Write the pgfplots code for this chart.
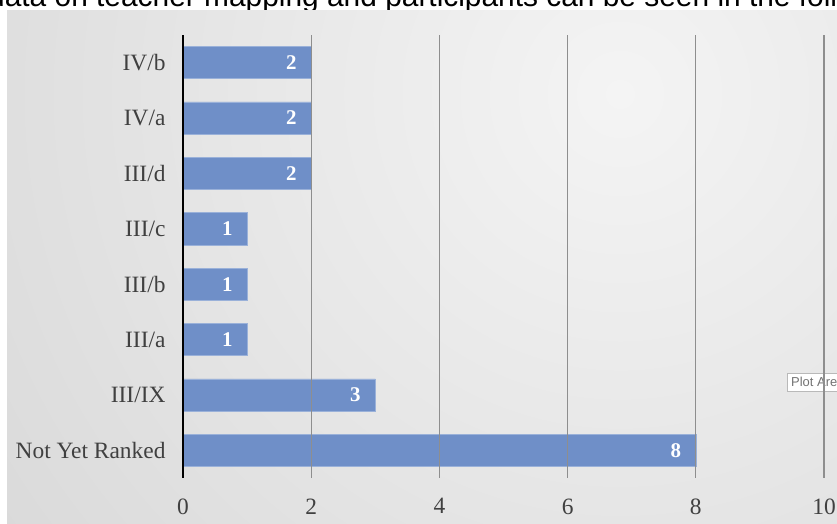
\documentclass[border=0pt]{standalone}
\usepackage{fontspec}
\setmainfont{Liberation Serif}
\newfontfamily\arialfont{Liberation Sans}
\usepackage{pgfplots}
\pgfplotsset{compat=1.18}
\definecolor{barblue}{HTML}{6F8FC8}
\definecolor{labgray}{HTML}{404040}
\definecolor{gridgray}{HTML}{8E8E8E}
\definecolor{panelout}{HTML}{C9C9C9}
\definecolor{panelin}{HTML}{F4F4F4}
\begin{document}
\begin{tikzpicture}[x=1bp,y=1bp]
\useasboundingbox (0,0) rectangle (837,524);
\fill[white] (0,0) rectangle (837,524);
\begin{scope}
  \clip (0,0) rectangle (837,524);
  \node[anchor=base west, inner sep=0, font=\arialfont\fontsize{30}{30}\selectfont] at (-12,517) {data on teacher mapping and participants can be seen in the follo};
\end{scope}
\begin{scope}
  \clip (7,0) rectangle (837,513);
  \fill[panelout] (7,0) rectangle (837,513);
  \shade[inner color=panelin, outer color=panelout] (620,430) circle (1250);
\end{scope}
\begin{scope}
  \clip (0,0) rectangle (837,524);
  \node[anchor=west, draw=gray!55, fill=white, inner xsep=4bp, inner ysep=4.5bp, font=\arialfont\fontsize{13}{13}\selectfont, text=gray!90!black] at (787,142) {Plot Are\rule{14bp}{0pt}};
\end{scope}
\begin{axis}[
  at={(183bp,46bp)}, anchor=south west,
  scale only axis, width=641bp, height=443bp,
  xbar, bar width=0.58,
  xmin=0, xmax=10, ymin=-0.5, ymax=7.5,
  xtick={0,2,4,6,8,10},
  ytick={0,1,2,3,4,5,6,7},
  yticklabels={Not Yet Ranked,III/IX,III/a,III/b,III/c,III/d,IV/a,IV/b},
  axis lines*=left,
  x axis line style={draw=none},
  y axis line style={black, line width=2.2bp},
  major tick length=0pt,
  xmajorgrids, major grid style={gridgray, line width=1.1bp},
  axis on top,
  /pgf/number format/assume math mode=true,
  tick label style={font=\fontsize{23.5}{23.5}\selectfont, text=labgray},
  xticklabel style={yshift=-17bp},
  yticklabel style={xshift=-14bp},
  nodes near coords,
  every node near coord/.append style={anchor=east, xshift=-11bp, text=white, font=\bfseries\fontsize{21}{21}\selectfont},
]
\addplot[fill=barblue, draw=barblue!70!white, line width=0.6bp] coordinates {
  (8,0) (3,1) (1,2) (1,3) (1,4) (2,5) (2,6) (2,7)
};
\end{axis}
\end{tikzpicture}
\end{document}
